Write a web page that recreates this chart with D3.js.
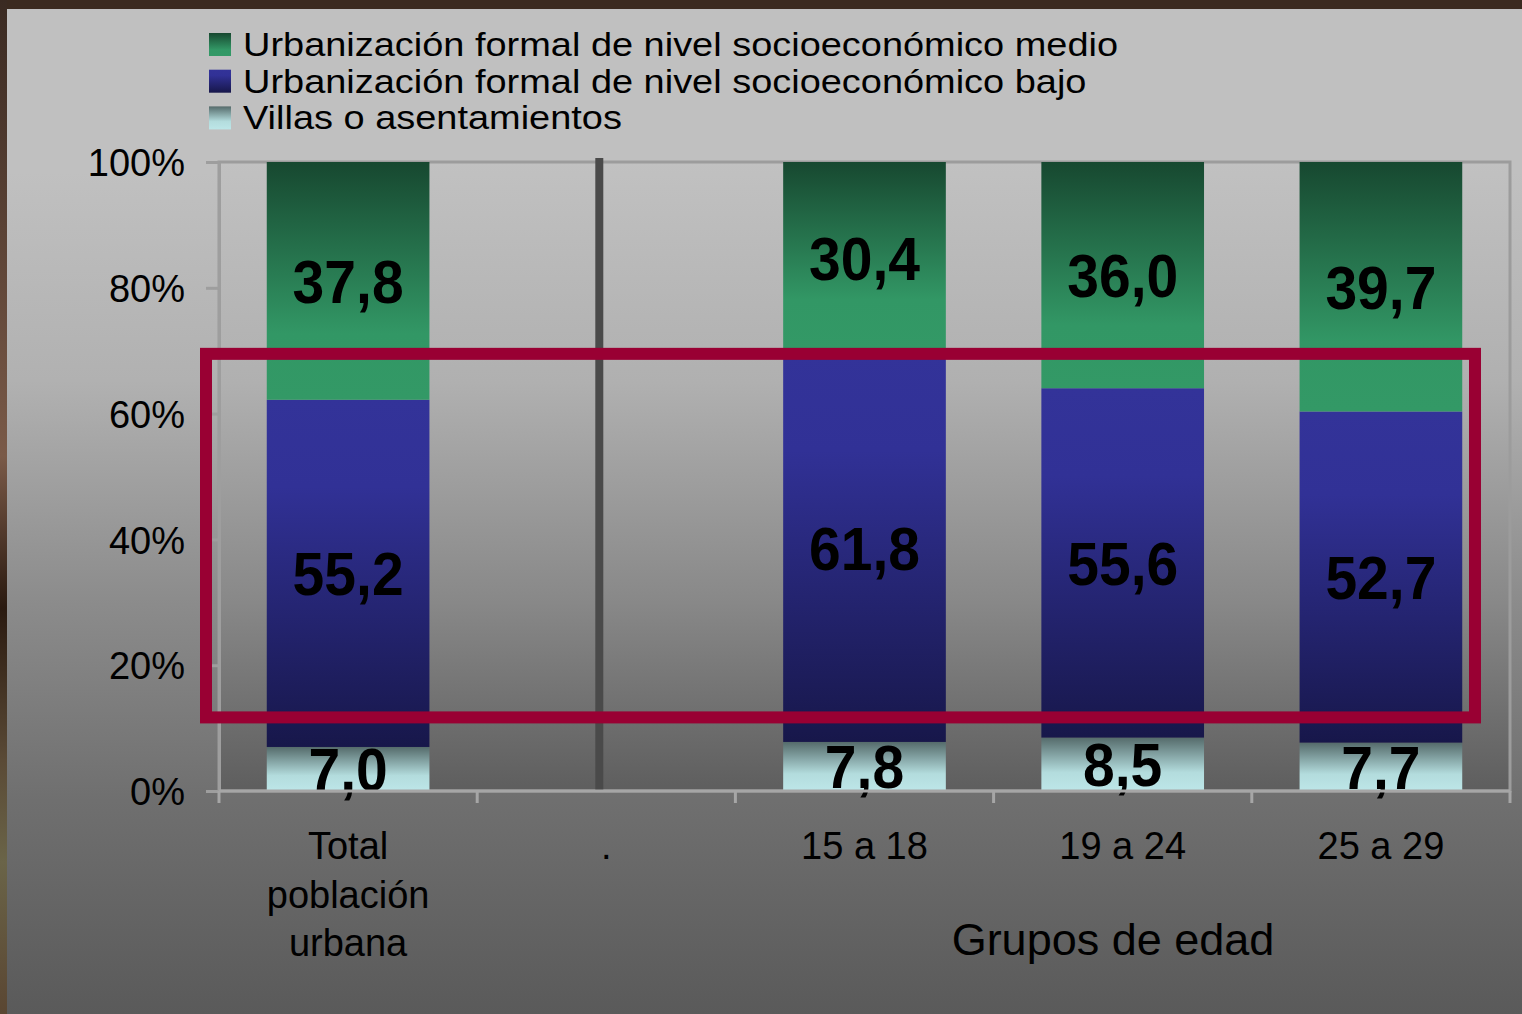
<!DOCTYPE html>
<html>
<head>
<meta charset="utf-8">
<script src="https://cdn.jsdelivr.net/npm/d3@7"></script>
<style>
  body { margin: 0; background: #3a2a20; }
  svg { display: block; font-family: "Liberation Sans", Arial, sans-serif; }
</style>
</head>
<body>
<svg id="chart" width="1522" height="1014"></svg>
<script>
var width = 1522
var height = 1014

// categories (first one is the total, "." is an empty spacer column)
const categories = ["Total población urbana", ".", "15 a 18", "19 a 24", "25 a 29"];
const categoryLines = [["Total", "población", "urbana"], ["."], ["15 a 18"], ["19 a 24"], ["25 a 29"]];
const seriesNames = [
  "Urbanización formal de nivel socioeconómico medio",
  "Urbanización formal de nivel socioeconómico bajo",
  "Villas o asentamientos"
];
// values in %, per category (null = spacer)
const villas = [7.0, null, 7.8, 8.5, 7.7];
const bajo   = [55.2, null, 61.8, 55.6, 52.7];
const medio  = [37.8, null, 30.4, 36.0, 39.7];
const yTicks = [0, 20, 40, 60, 80, 100];
const axisTitle = "Grupos de edad";
// highlighted band (values in %)
const highlightFrom = 11.7, highlightTo = 69.5;

const plot = {left: 219, right: 1510, top: 162, bottom: 791};

const svg = d3.select("svg#chart");
const defs = svg.append("defs");

function gradient(id, stops, user) {
  const g = defs.append("linearGradient").attr("id", id)
      .attr("x1", 0).attr("x2", 0).attr("y1", user ? user[0] : 0).attr("y2", user ? user[1] : 1);
  if (user) g.attr("gradientUnits", "userSpaceOnUse");
  stops.forEach(s => g.append("stop").attr("offset", s[0]).attr("stop-color", s[1]));
  return "url(#" + id + ")";
}

const panelFill = gradient("panel", [[0, "#c0c0c0"], [0.17, "#c0c0c0"], [0.375, "#b1b1b1"], [0.59, "#8c8c8c"], [0.79, "#6f6f6f"], [1, "#5a5a5a"]], [0, 1014]);
const plotFill = gradient("plotbg", [[0, "#c1c1c1"], [0.35, "#b0b0b0"], [0.7, "#888888"], [1, "#5e5e5e"]], [plot.top, plot.bottom]);
const fills = {
  medio: gradient("gMedio", [[0, "#174830"], [0.72, "#329765"], [1, "#339966"]]),
  bajo: gradient("gBajo", [[0, "#333399"], [0.25, "#313196"], [1, "#17174a"]]),
  villas: gradient("gVillas", [[0, "#556b6b"], [0.65, "#b3dcdd"], [1, "#bde6e8"]])
};
const topBorder = gradient("brownTop", [[0, "#2a1d16"], [0.5, "#4a3a2e"], [1, "#2a1c14"]]);
defs.select("#brownTop").attr("x2", 1).attr("y2", 0);

// photo-ish frame and panel
svg.append("rect").attr("width", width).attr("height", height).attr("fill", "#3b2a20");
svg.append("rect").attr("x", 0).attr("y", 0).attr("width", 7).attr("height", height)
    .attr("fill", gradient("brownLeft", [[0, "#3a2a22"], [0.45, "#7a5a48"], [0.6, "#2a1a10"], [0.75, "#5a4a36"], [0.85, "#6a6448"], [1, "#5a4632"]]));
svg.append("rect").attr("x", 7).attr("y", 9).attr("width", width - 7).attr("height", height - 9).attr("fill", panelFill);

// scales
const x = d3.scaleBand().domain(categories).range([plot.left, plot.right]).paddingInner(0.37).paddingOuter(0.185);
const y = d3.scaleLinear().domain([0, 100]).range([plot.bottom, plot.top]);

// plot area
svg.append("rect")
    .attr("x", plot.left).attr("y", plot.top)
    .attr("width", plot.right - plot.left).attr("height", plot.bottom - plot.top)
    .attr("fill", plotFill).attr("stroke", "#9c9c9c").attr("stroke-width", 3);

// stacked 100% data
const rows = categories.map((c, i) => ({cat: c, villas: villas[i], bajo: bajo[i], medio: medio[i]}))
    .filter(d => d.villas != null);
const keys = ["villas", "bajo", "medio"];
const stack = d3.stack().keys(keys).offset(d3.stackOffsetExpand)(rows);

const fmt = v => d3.format(".1f")(v).replace(".", ",");

const layer = svg.append("g").selectAll("g")
  .data(stack)
  .join("g")
    .attr("fill", d => fills[d.key]);

layer.selectAll("rect")
  .data(d => d)
  .join("rect")
    .attr("x", d => x(d.data.cat))
    .attr("width", x.bandwidth())
    .attr("y", d => y(d[1] * 100))
    .attr("height", d => y(d[0] * 100) - y(d[1] * 100));

// separator between total and age groups
svg.append("line")
    .attr("x1", x(".") + x.bandwidth() / 2 - 7).attr("x2", x(".") + x.bandwidth() / 2 - 7)
    .attr("y1", plot.top - 4).attr("y2", plot.bottom + 1)
    .attr("stroke", "#4a4a4a").attr("stroke-width", 8);

// y axis
const yAxis = svg.append("g")
    .attr("transform", `translate(${plot.left},0)`)
    .call(d3.axisLeft(y).tickValues(yTicks).tickSize(13).tickSizeOuter(0).tickPadding(21).tickFormat(d => d + "%"));
yAxis.select(".domain").attr("stroke", "#9e9e9e").attr("stroke-width", 3);
yAxis.selectAll(".tick line").attr("stroke", "#9e9e9e").attr("stroke-width", 3);
yAxis.selectAll(".tick text").attr("font-size", 38).attr("fill", "#000").attr("dy", "0.36em");

// x axis (ticks at band boundaries)
const bounds = categories.map(c => x(c) - x.step() * x.paddingInner() / 2).concat([plot.right]);
const xAxis = svg.append("g");
xAxis.append("line")
    .attr("x1", plot.left).attr("x2", plot.right).attr("y1", plot.bottom).attr("y2", plot.bottom)
    .attr("stroke", "#a6a6a6").attr("stroke-width", 3);
xAxis.selectAll("line.tk")
  .data(bounds)
  .join("line").attr("class", "tk")
    .attr("x1", d => d).attr("x2", d => d)
    .attr("y1", plot.bottom).attr("y2", plot.bottom + 12)
    .attr("stroke", "#a6a6a6").attr("stroke-width", 3);

xAxis.selectAll("text")
  .data(categories)
  .join("text")
    .attr("text-anchor", "middle")
    .attr("font-size", 38)
    .attr("fill", "#000")
    .each(function(d, i) {
      d3.select(this).selectAll("tspan")
        .data(categoryLines[i])
        .join("tspan")
          .attr("x", x(d) + x.bandwidth() / 2)
          .attr("y", (t, j) => 859 + j * 48.5)
          .text(t => t);
    });

svg.append("text")
    .attr("x", 1113).attr("y", 955)
    .attr("text-anchor", "middle")
    .attr("font-size", 45)
    .attr("fill", "#000")
    .text(axisTitle);

// value labels
layer.selectAll("text")
  .data(d => d.map(p => Object.assign({key: d.key}, {p})))
  .join("text")
    .attr("transform", d => `translate(${x(d.p.data.cat) + x.bandwidth() / 2},${(y(d.p[0] * 100) + y(d.p[1] * 100)) / 2 + 22}) scale(0.92,1)`)
    .attr("text-anchor", "middle")
    .attr("font-size", 62)
    .attr("font-weight", "bold")
    .attr("fill", "#000")
    .text(d => fmt(d.p.data[d.key]));

// highlight frame
svg.append("rect")
    .attr("x", plot.left - 13).attr("y", y(highlightTo))
    .attr("width", plot.right - 35 - (plot.left - 13))
    .attr("height", y(highlightFrom) - y(highlightTo))
    .attr("fill", "none")
    .attr("stroke", "#990033")
    .attr("stroke-width", 12);

// legend
const legendFills = [fills.medio, fills.bajo, fills.villas];
const legend = svg.append("g").selectAll("g")
  .data(seriesNames)
  .join("g")
    .attr("transform", (d, i) => `translate(209,${33 + i * 36.7})`);
legend.append("rect")
    .attr("width", 22).attr("height", 23)
    .attr("fill", (d, i) => legendFills[i]);
legend.append("text")
    .attr("transform", "translate(34,23) scale(1.15,1)")
    .attr("font-size", 33)
    .attr("fill", "#000")
    .text(d => d);
</script>
</body>
</html>
